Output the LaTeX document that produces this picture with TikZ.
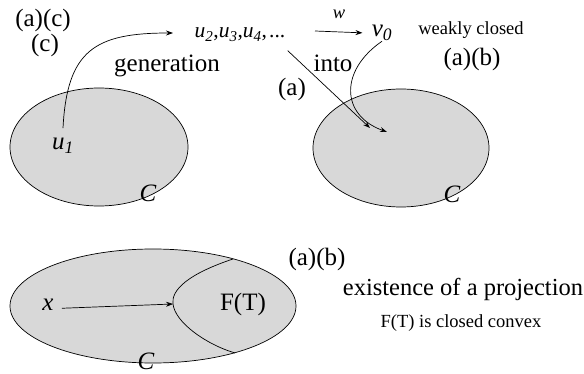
\documentclass[tikz,border=0pt]{standalone}
\usepackage{fontspec}
\setmainfont{Liberation Serif}
\usetikzlibrary{positioning, arrows.meta, shapes.geometric}
\definecolor{setgray}{RGB}{216,216,216}
\newcommand{\ivar}[2]{\textit{#1}\textsubscript{\textit{#2}}}

\begin{document}
\begin{tikzpicture}[x=1pt, y=-1pt, >={Stealth[length=7pt, width=5pt]}, line width=0.7pt,
  region/.style={ellipse, draw, fill=setgray, inner sep=0pt},
  bigtxt/.style={font=\fontsize{25}{28}\selectfont, inner sep=0pt, anchor=base},
  smalltxt/.style={font=\fontsize{18.5}{21}\selectfont, inner sep=0pt, anchor=base}]
  \useasboundingbox (0,0) rectangle (584,374);
  % the three sets
  \node[region, minimum width=178pt, minimum height=118pt] (leftset) at (99,147) {};
  \node[region, minimum width=176pt, minimum height=118pt] (rightset) at (401,148) {};
  \node[region, minimum width=286pt, minimum height=114pt] (bottomset) at (153,306) {};
  \node[bigtxt] (cleft) at (148,202) {\textit{C}};
  \node[bigtxt] (cright) at (452,203) {\textit{C}};
  \node[bigtxt] (cbottom) at (146,369) {\textit{C}};
  % top row
  \node[bigtxt] (ac) at (43,27) {(a)(c)};
  \node[bigtxt] (conly) at (45,52) {(c)};
  \node[bigtxt] (gen) at (167,72) {generation};
  \node[bigtxt] (u1) at (63,150) {\ivar{u}{1}};
  \node[bigtxt, font=\fontsize{21.5}{26}\selectfont] (useq) at (240,38)
       {\ivar{u}{2},\ivar{u}{3},\ivar{u}{4},\hspace{0.1em}...};
  \node[bigtxt] (v0) at (382,37) {\ivar{v}{0}};
  \node[smalltxt, font=\fontsize{18.5}{21}\selectfont\itshape] (wlbl) at (339,19) {w};
  \node[smalltxt] (weak) at (471,35) {weakly closed};
  \node[bigtxt] (abtop) at (472,66) {(a)(b)};
  \node[bigtxt] (into) at (333,72) {into};
  \node[bigtxt] (amid) at (292,96) {(a)};
  \coordinate (hitA) at (370,128);
  \coordinate (hitB) at (387,132);
  % arrows of the top row
  \draw[->] ([yshift=10pt]u1.north) .. controls (67,50) and (95,33) .. (173,33);
  \draw[->, shorten >=9pt] (315,31) -- (v0.west);
  \draw[->] ([xshift=2pt, yshift=-9pt]useq.south east) -- (hitA);
  \draw[->] (v0.south) .. controls (340,70) and (340,115) .. (hitB);
  % projection
  \coordinate (lenstop) at (233,259);
  \coordinate (lensleft) at (173,304);
  \coordinate (lensbot) at (235,353);
  \draw (lenstop) .. controls (188,274) and (171,290) .. (lensleft)
        .. controls (175,322) and (205,344) .. (lensbot);
  \node[bigtxt] (xpt) at (48,310) {\textit{x}};
  \node[bigtxt] (ft) at (243,311) {F(T)};
  \draw[->] ([xshift=8pt, yshift=-4pt]xpt.east) -- (lensleft);
  \node[bigtxt] (abbot) at (317,266) {(a)(b)};
  \node[bigtxt, font=\fontsize{24.5}{28}\selectfont] (exist) at (463,295) {existence of a projection};
  \node[smalltxt] (convex) at (461,327) {F(T) is closed convex};
\end{tikzpicture}
\end{document}
